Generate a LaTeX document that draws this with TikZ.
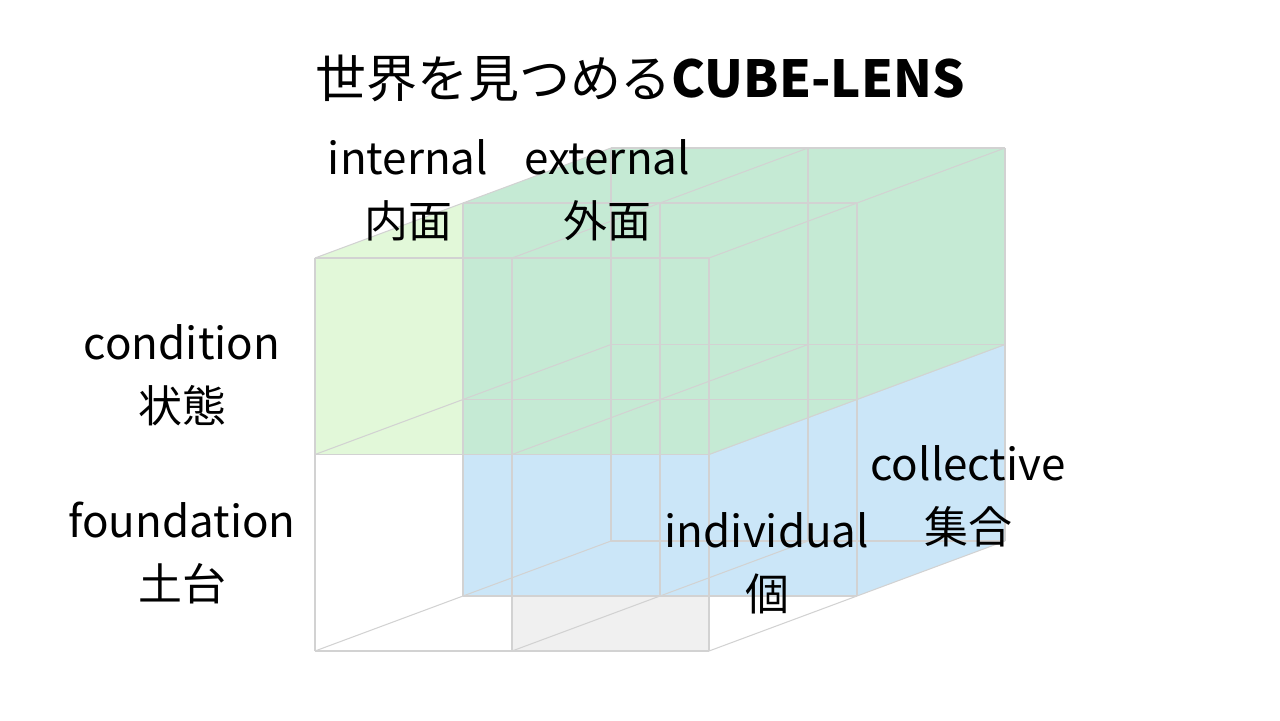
\documentclass[tikz,border=0pt]{standalone}
\usepackage{fontspec}
\setmainfont{Noto Sans CJK JP}
\begin{document}
\begin{tikzpicture}[
    x=0.02cm, y=-0.02cm,
    grid/.style={draw=gray!35, line width=0.6pt},
    label/.style={font=\fontsize{25}{36}\selectfont, align=center},
    greenbox/.style={fill={rgb,255:red,190;green,240;blue,170}, fill opacity=0.45},
    bluebox/.style={fill={rgb,255:red,140;green,200;blue,240}, fill opacity=0.45},
]
\useasboundingbox (0,0) rectangle (1280,720);
% --- cube corners: P(i,j,k) ---
\def\cx#1#2{315+197*#1+148*#2}
\def\cy#1#2{651-196.5*#1-55*#2}

% --- grey floor cell ---
\fill[gray!12] (512,597) rectangle (709,651);

% --- external block (back half) ---
\fill[bluebox] (463,203) -- (857,203) -- (857,596) -- (463,596) -- cycle;
\fill[bluebox] (463,203) -- (611,148) -- (1005,148) -- (857,203) -- cycle;
\fill[bluebox] (857,203) -- (1005,148) -- (1005,541) -- (857,596) -- cycle;

% --- condition block (upper half) ---
\fill[greenbox] (315,258) -- (709,258) -- (709,455) -- (315,455) -- cycle;
\fill[greenbox] (315,258) -- (611,148) -- (1005,148) -- (709,258) -- cycle;
\fill[greenbox] (709,258) -- (1005,148) -- (1005,345) -- (709,455) -- cycle;

% --- grid lines ---
\foreach \a in {0,1,2}{
  \foreach \b in {0,1,2}{
    \draw[grid] ({\cx{0}{\b}},{\cy{\a}{\b}}) -- ({\cx{2}{\b}},{\cy{\a}{\b}});
    \draw[grid] ({\cx{\a}{\b}},{\cy{0}{\b}}) -- ({\cx{\a}{\b}},{\cy{2}{\b}});
    \draw[grid] ({\cx{\a}{0}},{\cy{\b}{0}}) -- ({\cx{\a}{2}},{\cy{\b}{2}});
  }
}

% --- title ---
\node[font=\fontsize{29}{34}\selectfont] (title) at (640,78) {世界を見つめる\textbf{CUBE-LENS}};

% --- labels ---
\node[label] (internal) at (408,190) {internal\\内面};
\node[label] (external) at (607,190) {external\\外面};
\node[label] (condition) at (182,375) {condition\\状態};
\node[label] (foundation) at (182,553) {foundation\\土台};
\node[label] (individual) at (767,563) {individual\\個};
\node[label] (collective) at (968,496) {collective\\集合};
\end{tikzpicture}
\end{document}
